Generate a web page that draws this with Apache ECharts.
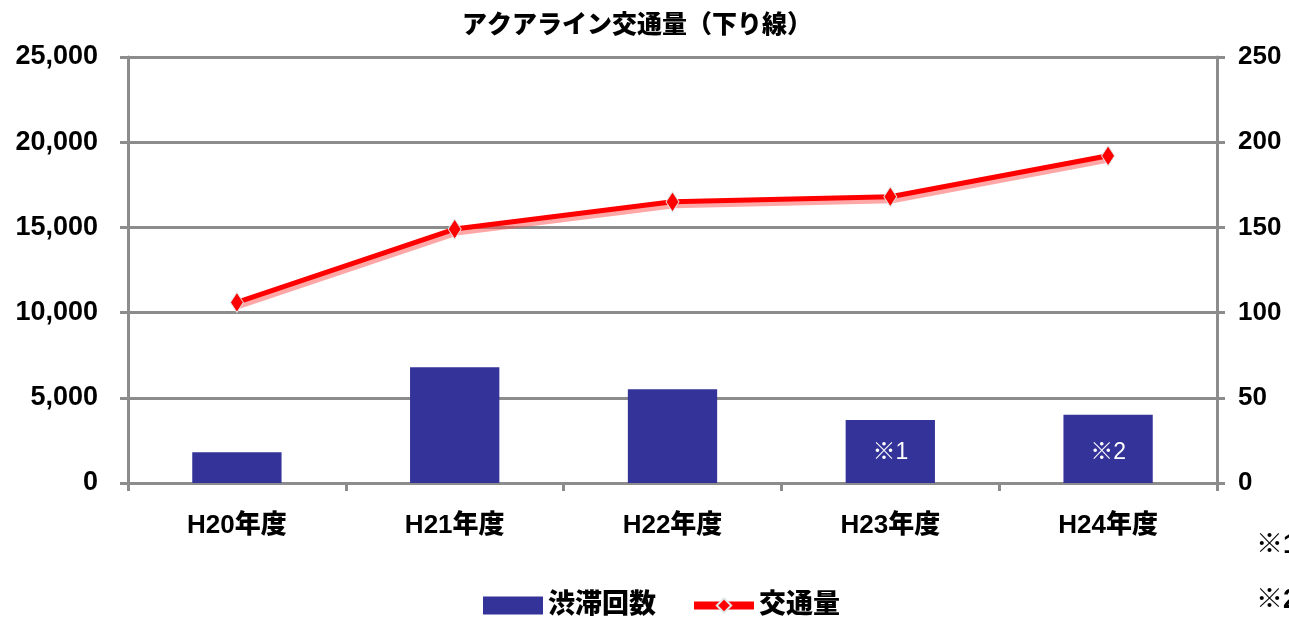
<!DOCTYPE html>
<html>
<head>
<meta charset="utf-8">
<script src="https://cdn.jsdelivr.net/npm/echarts@6/dist/echarts.min.js"></script>
<style>
html,body{margin:0;padding:0;background:#fff;}
#chart{width:1289px;height:619px;}
</style>
</head>
<body>
<div id="chart"></div>
<script>
var titleText = 'アクアライン交通量（下り線）';
var categories = ['H20年度', 'H21年度', 'H22年度', 'H23年度', 'H24年度'];
var trafficVolume = [10600, 14900, 16500, 16800, 19200];
var congestionCount = [18, 68, 55, 37, 40];
var barNotes = ['', '', '', '※1', '※2'];
var leftTickLabels = ['0', '5,000', '10,000', '15,000', '20,000', '25,000'];
var rightTickLabels = ['0', '50', '100', '150', '200', '250'];
var sideNotes = ['※1', '※2'];

var FONT = "'Liberation Sans', 'Noto Sans CJK JP', sans-serif";
var GRAY = '#8c8c8c';
var chart = echarts.init(document.getElementById('chart'));

var option = {
  backgroundColor: '#fff',
  animation: false,
  title: {
    text: titleText,
    left: 632,
    textAlign: 'center',
    top: 9,
    textStyle: {fontFamily: FONT, fontSize: 25, fontWeight: 900, color: '#000'}
  },
  legend: {
    left: 478,
    top: 587,
    itemGap: 34,
    itemWidth: 60,
    itemHeight: 18,
    textStyle: {fontFamily: FONT, fontSize: 27, fontWeight: 900, color: '#000'},
    data: [
      {name: '渋滞回数', icon: 'rect'},
      {name: '交通量', lineStyle: {width: 8, color: '#ff0000'}}
    ]
  },
  grid: {left: 128, right: 72, top: 57, bottom: 136},
  xAxis: {
    type: 'category',
    data: categories,
    axisLine: {lineStyle: {color: GRAY, width: 3}},
    axisTick: {show: true, length: 8, lineStyle: {color: GRAY, width: 3}},
    axisLabel: {fontFamily: FONT, fontSize: 26, fontWeight: 900, color: '#000', margin: 30}
  },
  yAxis: [
    {
      type: 'value', min: 0, max: 25000, interval: 5000,
      axisLine: {show: true, lineStyle: {color: GRAY, width: 3}},
      axisTick: {show: true, length: 8, lineStyle: {color: GRAY, width: 3}},
      splitLine: {show: true, lineStyle: {color: GRAY, width: 3}},
      axisLabel: {
        fontFamily: FONT, fontSize: 27, fontWeight: 900, color: '#000', margin: 30,
        formatter: function (v) { return leftTickLabels[Math.round(v / 5000)]; }
      }
    },
    {
      type: 'value', min: 0, max: 250, interval: 50, position: 'right',
      axisLine: {show: true, lineStyle: {color: GRAY, width: 3}},
      axisTick: {show: true, length: 8, lineStyle: {color: GRAY, width: 3}},
      splitLine: {show: false},
      axisLabel: {
        fontFamily: FONT, fontSize: 26, fontWeight: 900, color: '#000', margin: 21,
        formatter: function (v) { return rightTickLabels[Math.round(v / 50)]; }
      }
    }
  ],
  series: [
    {
      name: '渋滞回数',
      type: 'bar',
      yAxisIndex: 1,
      barWidth: '41%',
      itemStyle: {color: '#333399'},
      data: congestionCount,
      label: {
        show: true,
        position: 'insideBottom',
        distance: 19,
        color: '#fff',
        fontFamily: FONT,
        fontSize: 23,
        formatter: function (p) { return barNotes[p.dataIndex]; }
      },
      z: 2
    },
    {
      name: '交通量',
      type: 'line',
      yAxisIndex: 0,
      data: trafficVolume,
      symbol: 'diamond',
      symbolSize: [13, 20],
      lineStyle: {color: '#ff0000', width: 5, shadowColor: 'rgba(255,80,80,0.5)', shadowOffsetY: 4, shadowOffsetX: 2},
      itemStyle: {color: '#ff0000', borderColor: '#dfe8e8', borderWidth: 1},
      z: 5
    }
  ],
  graphic: [
    {type: 'text', left: 1256, top: 532, style: {text: sideNotes[0], font: '900 27px ' + FONT, fill: '#000'}},
    {type: 'text', left: 1256, top: 587, style: {text: sideNotes[1], font: '900 27px ' + FONT, fill: '#000'}}
  ]
};
chart.setOption(option);
</script>
</body>
</html>
